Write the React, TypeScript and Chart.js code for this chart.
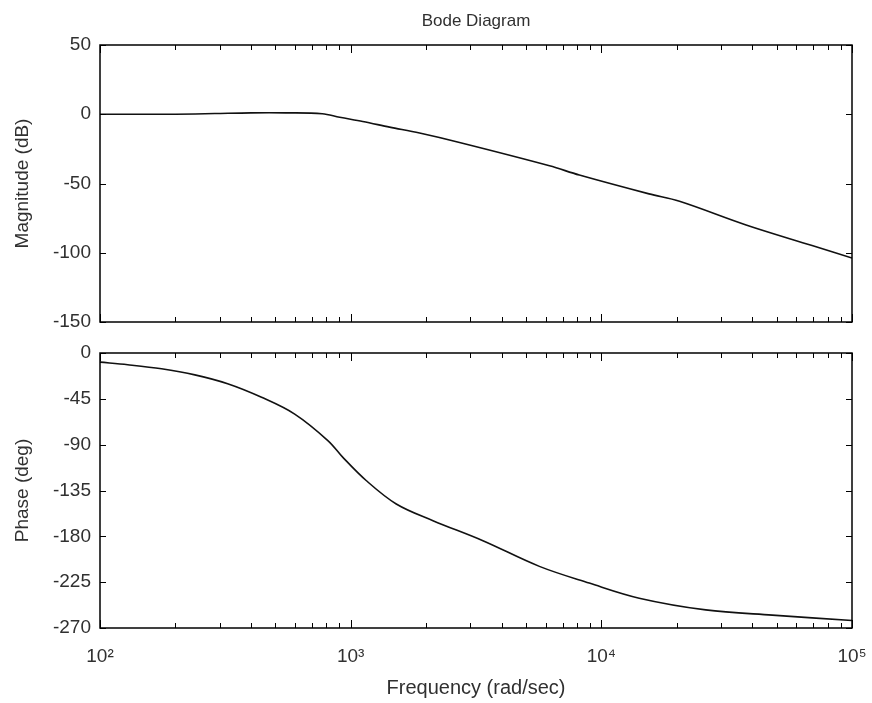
import React, { useEffect, useRef } from "react";
import { Chart, registerables } from "chart.js";

Chart.register(...registerables);

// ---- data ----
const magFreq = [100, 150, 200, 287, 400, 550, 770, 904, 1117, 1430, 1883, 2718, 6210, 8170, 15500, 20500, 37800, 69300, 100000];
const magDb = [0, 0, 0, 0.5, 1, 1, 0.4, -2.2, -5.2, -9.3, -13.6, -20.4, -37.2, -43.9, -57.5, -62.8, -79.9, -94.8, -103.8];

const phaseFreq = [100, 129, 176, 239, 323, 441, 598, 813, 931, 1153, 1520, 2130, 3370, 5660, 8950, 14160, 26100, 48100, 100000];
const phaseDeg = [-9, -11.5, -15.5, -21.5, -30.2, -43.5, -60, -86.2, -102.5, -125.2, -148.2, -164.6, -184.3, -209.5, -225.9, -240.7, -252.2, -257.4, -262.6];

const magRange = [-150, 50];
const magStep = 50;
const phaseRange = [-270, 0];
const phaseStep = 45;
const freqRange = [100, 100000];
const decadeLabels: Record<number, string> = { 100: "10²", 1000: "10³", 10000: "10⁴", 100000: "10⁵" };

const chartTitle = "Bode Diagram";
const magLabel = "Magnitude (dB)";
const phaseLabel = "Phase (deg)";
const freqLabel = "Frequency (rad/sec)";

const FONT = "'Liberation Sans', Arial, Helvetica, sans-serif";
const TEXT = "#303030";

const frameTicks = {
  id: "frameTicks",
  afterDraw(chart: any) {
    const { ctx, chartArea: a, scales } = chart;
    const x = scales.x;
    const y = scales.y;
    ctx.save();
    ctx.strokeStyle = "#000";
    ctx.lineWidth = 1;
    ctx.beginPath();
    for (let d = freqRange[0]; d <= freqRange[1]; d *= 10) {
      for (let m = 1; m <= 9; m++) {
        const v = d * m;
        if (v > freqRange[1]) break;
        const px = Math.round(x.getPixelForValue(v)) + 0.5;
        const len = m === 1 ? 8 : 5;
        ctx.moveTo(px, a.bottom);
        ctx.lineTo(px, a.bottom - len);
        ctx.moveTo(px, a.top);
        ctx.lineTo(px, a.top + len);
      }
    }
    for (const t of y.ticks) {
      const py = Math.round(y.getPixelForValue(t.value)) + 0.5;
      ctx.moveTo(a.left, py);
      ctx.lineTo(a.left + 6, py);
      ctx.moveTo(a.right, py);
      ctx.lineTo(a.right - 6, py);
    }
    ctx.stroke();
    ctx.lineWidth = 1.5;
    ctx.strokeRect(a.left, a.top, a.right - a.left, a.bottom - a.top);
    ctx.restore();
  },
};

const titlePlugin = {
  id: "bodeTitle",
  afterDraw(chart: any) {
    const { ctx, chartArea: a } = chart;
    ctx.save();
    ctx.fillStyle = TEXT;
    ctx.font = `17px ${FONT}`;
    ctx.textAlign = "center";
    ctx.textBaseline = "middle";
    ctx.fillText(chartTitle, (a.left + a.right) / 2, 21);
    ctx.restore();
  },
};

function yScale(range: number[], step: number, label: string) {
  return {
    min: range[0],
    max: range[1],
    ticks: {
      stepSize: step,
      padding: 9,
      color: TEXT,
      font: { family: FONT, size: 19 },
    },
    grid: { display: false, drawTicks: false },
    border: { display: false },
    title: {
      display: true,
      text: label,
      color: TEXT,
      font: { family: FONT, size: 19 },
      padding: { top: 11, bottom: 4 },
    },
    afterFit: (s: any) => {
      s.width = 100;
      s.paddingTop = 0;
      s.paddingBottom = 0;
    },
  };
}

export default function App() {
  const magRef = useRef<HTMLCanvasElement>(null);
  const phaseRef = useRef<HTMLCanvasElement>(null);

  useEffect(() => {
    const magChart = new Chart(magRef.current!, {
      type: "line",
      data: {
        datasets: [
          {
            data: magFreq.map((f, i) => ({ x: f, y: magDb[i] })),
            borderColor: "#111",
            borderWidth: 1.6,
            pointRadius: 0,
            tension: 0.35,
          },
        ],
      },
      options: {
        animation: false,
        responsive: false,
        maintainAspectRatio: false,
        layout: { padding: { top: 45, right: 20, bottom: 13, left: 0 } },
        plugins: { legend: { display: false }, tooltip: { enabled: false }, title: { display: false } },
        scales: {
          x: { type: "logarithmic", min: freqRange[0], max: freqRange[1], display: false },
          y: yScale(magRange, magStep, magLabel) as any,
        },
      },
      plugins: [frameTicks, titlePlugin],
    } as any);

    const phaseChart = new Chart(phaseRef.current!, {
      type: "line",
      data: {
        datasets: [
          {
            data: phaseFreq.map((f, i) => ({ x: f, y: phaseDeg[i] })),
            borderColor: "#111",
            borderWidth: 1.6,
            pointRadius: 0,
            tension: 0.35,
          },
        ],
      },
      options: {
        animation: false,
        responsive: false,
        maintainAspectRatio: false,
        layout: { padding: { top: 18, right: 20, bottom: 0, left: 0 } },
        plugins: { legend: { display: false }, tooltip: { enabled: false } },
        scales: {
          x: {
            type: "logarithmic",
            min: freqRange[0],
            max: freqRange[1],
            grid: { display: false, drawTicks: false },
            border: { display: false },
            ticks: {
              autoSkip: false,
              maxRotation: 0,
              padding: 17,
              color: TEXT,
              font: { family: FONT, size: 19 },
              callback: (v: any) => decadeLabels[Number(v)] ?? "",
            },
            title: {
              display: true,
              text: freqLabel,
              color: TEXT,
              font: { family: FONT, size: 20 },
              padding: { top: 4, bottom: 3 },
            },
            afterFit: (s: any) => {
              s.height = 75;
              s.paddingLeft = 0;
              s.paddingRight = 0;
            },
          },
          y: yScale(phaseRange, phaseStep, phaseLabel) as any,
        },
      },
      plugins: [frameTicks],
    } as any);

    return () => {
      magChart.destroy();
      phaseChart.destroy();
    };
  }, []);

  return (
    <div style={{ position: "fixed", left: 0, top: 0, width: 872, height: 703, background: "#fff" }}>
      <canvas
        ref={magRef}
        width={872}
        height={335}
        style={{ position: "absolute", left: 0, top: 0, width: 872, height: 335 }}
      />
      <canvas
        ref={phaseRef}
        width={872}
        height={368}
        style={{ position: "absolute", left: 0, top: 335, width: 872, height: 368 }}
      />
    </div>
  );
}
